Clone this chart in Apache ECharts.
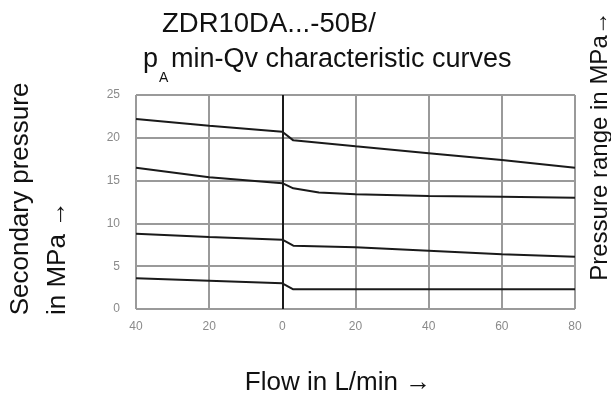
<!DOCTYPE html>
<html><head><meta charset="utf-8">
<script src="https://cdn.jsdelivr.net/npm/echarts@6/dist/echarts.min.js"></script>
<style>html,body{margin:0;padding:0;background:#fff}#c{width:611px;height:401px}</style>
</head><body><div id="c"></div>
<script>
// Curve data: flow (L/min) and secondary pressure (MPa)
var flow21 = [-40, -20, 0, 3, 20, 40, 60, 80];
var p21    = [22.2, 21.4, 20.7, 19.7, 19.0, 18.2, 17.4, 16.5];
var flow15 = [-40, -20, 0, 3, 10, 20, 40, 60, 80];
var p15    = [16.5, 15.4, 14.7, 14.1, 13.6, 13.4, 13.2, 13.1, 13.0];
var flow75 = [-40, -20, 0, 3, 20, 40, 60, 80];
var p75    = [8.8, 8.4, 8.1, 7.4, 7.2, 6.8, 6.4, 6.1];
var flow25 = [-40, -20, 0, 3, 80];
var p25    = [3.6, 3.3, 3.0, 2.3, 2.3];
// Curve labels (pressure range) and where they sit
var rangeLabels = ['21', '15', '7.5', '2.5'];
var labelFlow   = [79, 79, 79, 79];
var labelP      = [18.1, 15.0, 8.3, 3.3];
// Tick labels
var xTickValues = [-40, -20, 0, 20, 40, 60, 80];
var xTickLabels = ['40', '20', '0', '20', '40', '60', '80'];
var yTickValues = [0, 5, 10, 15, 20, 25];

function pairs(xs, ys){ return xs.map(function(x,i){ return [x, ys[i]]; }); }
var FONT = 'Liberation Sans, Arial, sans-serif';
var chart = echarts.init(document.getElementById('c'), null, {renderer:'canvas'});
var lineStyle = {color:'#1a1a1a', width:2};
function curve(xs, ys){
  return {type:'line', data:pairs(xs, ys), symbol:'none', smooth:false, lineStyle:lineStyle, z:5, silent:true};
}
var option = {
  animation:false,
  backgroundColor:'#fff',
  grid:{left:136, right:36, top:95, bottom:92},
  xAxis:{type:'value', min:-40, max:80, interval:20,
    axisLine:{show:false}, axisTick:{show:false},
    splitLine:{show:true, lineStyle:{color:'#9a9a9a', width:2}},
    axisLabel:{color:'#8a8a8a', fontSize:12, fontFamily:FONT, margin:12,
      formatter:function(v){ var i = xTickValues.indexOf(v); return i>=0 ? xTickLabels[i] : ''; }}
  },
  yAxis:{type:'value', min:0, max:25, interval:5,
    axisLine:{show:true, lineStyle:{color:'#9a9a9a', width:2}}, axisTick:{show:false},
    splitLine:{show:true, lineStyle:{color:'#9a9a9a', width:2}},
    axisLabel:{color:'#8a8a8a', fontSize:12, fontFamily:FONT, margin:16,
      formatter:function(v){ return yTickValues.indexOf(v)>=0 ? String(v) : ''; }}
  },
  series:[
    curve(flow21, p21), curve(flow15, p15), curve(flow75, p75), curve(flow25, p25),
    {type:'line', data:[], markLine:{silent:true, symbol:'none', label:{show:false},
      lineStyle:{color:'#1a1a1a', width:2, type:'solid'}, data:[{xAxis:0}]}},
    {type:'scatter', data:rangeLabels.map(function(t,i){ return [labelFlow[i], labelP[i], t]; }),
      symbolSize:1, itemStyle:{opacity:0}, silent:true,
      label:{show:true, position:'left', distance:0, color:'#8a8a8a', fontSize:12, fontFamily:FONT,
        formatter:function(p){ return p.value[2]; }}}
  ],
  graphic:[
    {type:'text', x:162, y:24, style:{text:'ZDR10DA...-50B/', font:'27.5px '+FONT, fill:'#111', verticalAlign:'middle'}},
    {type:'text', x:143, y:60, style:{text:'p', font:'27px '+FONT, fill:'#111', verticalAlign:'middle'}},
    {type:'text', x:159, y:78, style:{text:'A', font:'14px '+FONT, fill:'#111', verticalAlign:'middle'}},
    {type:'text', x:171, y:60, style:{text:'min-Qv characteristic curves', font:'27px '+FONT, fill:'#111', verticalAlign:'middle'}},
    {type:'text', x:21, y:199, rotation:Math.PI/2,
      style:{text:'Secondary pressure', font:'26px '+FONT, fill:'#111', align:'center', verticalAlign:'middle'}},
    {type:'text', x:58, y:258, rotation:Math.PI/2,
      style:{text:'in MPa \u2192', font:'26px '+FONT, fill:'#111', align:'center', verticalAlign:'middle'}},
    {type:'text', x:600, y:146, rotation:Math.PI/2,
      style:{text:'Pressure range in MPa\u2192', font:'24px '+FONT, fill:'#111', align:'center', verticalAlign:'middle'}},
    {type:'text', x:338, y:383,
      style:{text:'Flow in L/min \u2192', font:'26px '+FONT, fill:'#111', align:'center', verticalAlign:'middle'}}
  ]
};
chart.setOption(option);
</script></body></html>
